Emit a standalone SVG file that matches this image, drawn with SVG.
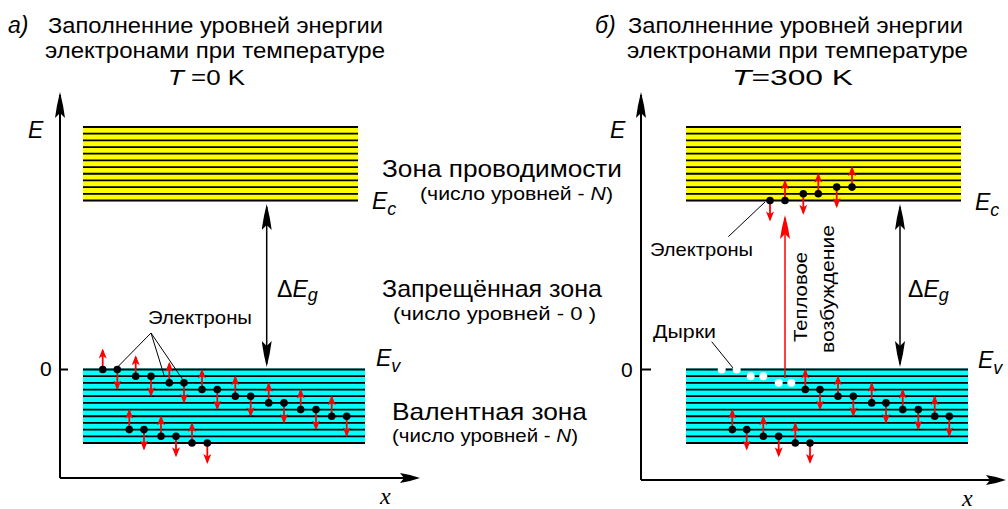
<svg xmlns="http://www.w3.org/2000/svg" width="1008" height="509" viewBox="0 0 1008 509">
<style>
.t{font-family:"Liberation Sans",Arial,sans-serif;fill:#000}
.it{font-style:italic}
.xs{font-family:"Liberation Serif","Times New Roman",serif;font-style:italic;fill:#000}
.bl{stroke:#000;stroke-width:1.8;fill:none}
.ax{stroke:#000;stroke-width:2;fill:none}
.gap{stroke:#000;stroke-width:1.5;fill:none}
.ptr{stroke:#000;stroke-width:1;fill:none}
.ru{stroke:#f00;stroke-width:1.8;fill:none;marker-end:url(#rs)}
.rth{stroke:#f00;stroke-width:1.5;fill:none}
.el{fill:#000}
.hole{fill:#fff}
</style>
<defs>
<marker id="bh" viewBox="0 0 26 10" refX="23" refY="5" markerWidth="26" markerHeight="10" markerUnits="userSpaceOnUse" orient="auto-start-reverse"><path d="M26,5 Q12,1.5 0,0 L5,5 L0,10 Q12,8.5 26,5Z" fill="#000"/></marker>
<marker id="xh" viewBox="0 0 20 10" refX="17" refY="5" markerWidth="20" markerHeight="10" markerUnits="userSpaceOnUse" orient="auto"><path d="M20,5 Q10,1.5 0,0 L4,5 L0,10 Q10,8.5 20,5Z" fill="#000"/></marker>
<marker id="rh" viewBox="0 0 24 10" refX="21" refY="5" markerWidth="24" markerHeight="10" markerUnits="userSpaceOnUse" orient="auto"><path d="M24,5 Q11,1.5 0,0 L5,5 L0,10 Q11,8.5 24,5Z" fill="#f00"/></marker>
<marker id="rs" viewBox="0 0 10 8" refX="8" refY="4" markerWidth="10" markerHeight="8" markerUnits="userSpaceOnUse" orient="auto"><path d="M10,4 L0,0 L2.5,4 L0,8Z" fill="#f00"/></marker>
</defs>

<!-- Titles -->
<g id="title-a">
<text class="t it" x="8" y="33" font-size="23">а)</text>
<text class="t" x="48" y="33" font-size="22" textLength="335" lengthAdjust="spacingAndGlyphs">Заполненние уровней энергии</text>
<text class="t" x="45" y="58" font-size="22" textLength="340" lengthAdjust="spacingAndGlyphs">электронами при температуре</text>
<text class="t" x="168" y="85" font-size="22" textLength="77" lengthAdjust="spacingAndGlyphs"><tspan class="it">T</tspan> =0 K</text>
</g>
<g id="title-b">
<text class="t it" x="595" y="33" font-size="23">б)</text>
<text class="t" x="628" y="33" font-size="22" textLength="335" lengthAdjust="spacingAndGlyphs">Заполненние уровней энергии</text>
<text class="t" x="627" y="58" font-size="22" textLength="341" lengthAdjust="spacingAndGlyphs">электронами при температуре</text>
<text class="t" x="732" y="85" font-size="22" textLength="121" lengthAdjust="spacingAndGlyphs"><tspan class="it">T</tspan>=300 K</text>
</g>

<!-- Bands -->
<g id="band-c-left">
<rect x="83" y="126" width="275" height="75.5" fill="#ff0"/>
<path class="bl" d="M83,127H358M83,133.68H358M83,140.36H358M83,147.04H358M83,153.72H358M83,160.4H358M83,167.08H358M83,173.76H358M83,180.44H358M83,187.12H358M83,193.8H358M83,200.48H358"/>
</g>
<g id="band-v-left">
<rect x="83" y="368.5" width="282" height="75.5" fill="#0ff"/>
<path class="bl" d="M83,369.5H365M83,376.18H365M83,382.86H365M83,389.54H365M83,396.22H365M83,402.9H365M83,409.58H365M83,416.26H365M83,422.94H365M83,429.62H365M83,436.3H365M83,442.98H365"/>
</g>
<g id="band-c-right">
<rect x="686" y="126" width="275" height="75.5" fill="#ff0"/>
<path class="bl" d="M686,127H961M686,133.68H961M686,140.36H961M686,147.04H961M686,153.72H961M686,160.4H961M686,167.08H961M686,173.76H961M686,180.44H961M686,187.12H961M686,193.8H961M686,200.48H961"/>
</g>
<g id="band-v-right">
<rect x="686" y="368.5" width="282" height="75.5" fill="#0ff"/>
<path class="bl" d="M686,369.5H968M686,376.18H968M686,382.86H968M686,389.54H968M686,396.22H968M686,402.9H968M686,409.58H968M686,416.26H968M686,422.94H968M686,429.62H968M686,436.3H968M686,442.98H968"/>
</g>

<!-- Connectors -->
<g id="connectors">
<path class="ax" d="M60,478V95" marker-end="url(#bh)"/>
<path class="ax" d="M60,478H417" marker-end="url(#xh)"/>
<path class="ax" d="M60,369.5H68"/>
<path class="ax" d="M641,480V95" marker-end="url(#bh)"/>
<path class="ax" d="M641,480H1003" marker-end="url(#xh)"/>
<path class="ax" d="M641,369.5H651"/>
<path class="gap" d="M266.7,207V364" marker-start="url(#bh)" marker-end="url(#bh)"/>
<path class="gap" d="M900,207V364" marker-start="url(#bh)" marker-end="url(#bh)"/>
<path class="rth" d="M785,378V218" marker-end="url(#rh)"/>
<path class="ptr" d="M151,333L117.3,367.3M151,333L164.3,376M151,333L183,380"/>
<path class="ptr" d="M728.3,236.7L765,202"/>
<path class="ptr" d="M711.7,341.7L733.3,368.3"/>
<g id="red-arrows-left">
<path class="ru" d="M102.7,369.5v-19"/><path class="ru" d="M117.3,369.5v19"/>
<path class="ru" d="M135.7,376.18v-19"/><path class="ru" d="M151,376.18v19"/>
<path class="ru" d="M169.3,382.86v-19"/><path class="ru" d="M184,382.86v19"/>
<path class="ru" d="M202,389.54v-19"/><path class="ru" d="M217.3,389.54v19"/>
<path class="ru" d="M235.3,396.22v-19"/><path class="ru" d="M250.7,396.22v19"/>
<path class="ru" d="M268.7,402.9v-19"/><path class="ru" d="M284,402.9v19"/>
<path class="ru" d="M300.7,409.58v-19"/><path class="ru" d="M316,409.58v19"/>
<path class="ru" d="M331.7,416.26v-19"/><path class="ru" d="M346.7,416.26v19"/>
<path class="ru" d="M129.3,429.62v-19"/><path class="ru" d="M144,429.62v19"/>
<path class="ru" d="M161,436.3v-19"/><path class="ru" d="M176,436.3v19"/>
<path class="ru" d="M192,442.98v-19"/><path class="ru" d="M207.3,442.98v19"/>
</g>
<g id="red-arrows-right">
<path class="ru" d="M805.3,389.54v-19"/><path class="ru" d="M820,389.54v19"/>
<path class="ru" d="M838,396.22v-19"/><path class="ru" d="M853.3,396.22v19"/>
<path class="ru" d="M871.7,402.9v-19"/><path class="ru" d="M886,402.9v19"/>
<path class="ru" d="M902.7,409.58v-19"/><path class="ru" d="M918.3,409.58v19"/>
<path class="ru" d="M934.7,416.26v-19"/><path class="ru" d="M949.3,416.26v19"/>
<path class="ru" d="M732.3,429.62v-19"/><path class="ru" d="M746.7,429.62v19"/>
<path class="ru" d="M763.3,436.3v-19"/><path class="ru" d="M778.7,436.3v19"/>
<path class="ru" d="M795.3,442.98v-19"/><path class="ru" d="M810,442.98v19"/>
<path class="ru" d="M770,200.48v19"/><path class="ru" d="M785,200.48v-19"/>
<path class="ru" d="M803.3,193.8v19"/><path class="ru" d="M818.3,193.8v-19"/>
<path class="ru" d="M836.7,187.12v19"/><path class="ru" d="M852,187.12v-19"/>
</g>
</g>

<!-- Electrons and holes -->
<g id="electrons-left">
<circle class="el" cx="102.7" cy="369.5" r="3.8"/><circle class="el" cx="117.3" cy="369.5" r="3.8"/>
<circle class="el" cx="135.7" cy="376.18" r="3.8"/><circle class="el" cx="151" cy="376.18" r="3.8"/>
<circle class="el" cx="169.3" cy="382.86" r="3.8"/><circle class="el" cx="184" cy="382.86" r="3.8"/>
<circle class="el" cx="202" cy="389.54" r="3.8"/><circle class="el" cx="217.3" cy="389.54" r="3.8"/>
<circle class="el" cx="235.3" cy="396.22" r="3.8"/><circle class="el" cx="250.7" cy="396.22" r="3.8"/>
<circle class="el" cx="268.7" cy="402.9" r="3.8"/><circle class="el" cx="284" cy="402.9" r="3.8"/>
<circle class="el" cx="300.7" cy="409.58" r="3.8"/><circle class="el" cx="316" cy="409.58" r="3.8"/>
<circle class="el" cx="331.7" cy="416.26" r="3.8"/><circle class="el" cx="346.7" cy="416.26" r="3.8"/>
<circle class="el" cx="129.3" cy="429.62" r="3.8"/><circle class="el" cx="144" cy="429.62" r="3.8"/>
<circle class="el" cx="161" cy="436.3" r="3.8"/><circle class="el" cx="176" cy="436.3" r="3.8"/>
<circle class="el" cx="192" cy="442.98" r="3.8"/><circle class="el" cx="207.3" cy="442.98" r="3.8"/>
</g>
<g id="electrons-right">
<circle class="el" cx="805.3" cy="389.54" r="3.8"/><circle class="el" cx="820" cy="389.54" r="3.8"/>
<circle class="el" cx="838" cy="396.22" r="3.8"/><circle class="el" cx="853.3" cy="396.22" r="3.8"/>
<circle class="el" cx="871.7" cy="402.9" r="3.8"/><circle class="el" cx="886" cy="402.9" r="3.8"/>
<circle class="el" cx="902.7" cy="409.58" r="3.8"/><circle class="el" cx="918.3" cy="409.58" r="3.8"/>
<circle class="el" cx="934.7" cy="416.26" r="3.8"/><circle class="el" cx="949.3" cy="416.26" r="3.8"/>
<circle class="el" cx="732.3" cy="429.62" r="3.8"/><circle class="el" cx="746.7" cy="429.62" r="3.8"/>
<circle class="el" cx="763.3" cy="436.3" r="3.8"/><circle class="el" cx="778.7" cy="436.3" r="3.8"/>
<circle class="el" cx="795.3" cy="442.98" r="3.8"/><circle class="el" cx="810" cy="442.98" r="3.8"/>
<circle class="el" cx="770" cy="200.48" r="3.8"/><circle class="el" cx="785" cy="200.48" r="3.8"/>
<circle class="el" cx="803.3" cy="193.8" r="3.8"/><circle class="el" cx="818.3" cy="193.8" r="3.8"/>
<circle class="el" cx="836.7" cy="187.12" r="3.8"/><circle class="el" cx="852" cy="187.12" r="3.8"/>
</g>
<g id="holes-right">
<circle class="hole" cx="721.7" cy="369.5" r="4"/><circle class="hole" cx="736.7" cy="369.5" r="4"/>
<circle class="hole" cx="750.7" cy="376.18" r="4"/><circle class="hole" cx="763.3" cy="376.18" r="4"/>
<circle class="hole" cx="778.7" cy="382.86" r="4"/><circle class="hole" cx="791.3" cy="382.86" r="4"/>
</g>

<!-- Labels left panel -->
<g id="labels-left">
<text class="t it" x="28" y="138" font-size="23">E</text>
<text class="t" x="40" y="376" font-size="21">0</text>
<text class="xs" x="380" y="504" font-size="24">x</text>
<text class="t" x="277" y="297" font-size="23">Δ<tspan class="it">E</tspan><tspan class="it" font-size="18" dy="4">g</tspan></text>
<text class="t it" x="372" y="209" font-size="23">E<tspan font-size="18" dy="6">c</tspan></text>
<text class="t it" x="376" y="366" font-size="23">E<tspan font-size="18" dy="6">v</tspan></text>
<text class="t" x="148" y="324" font-size="19" textLength="104" lengthAdjust="spacingAndGlyphs">Электроны</text>
<text class="t" x="382" y="177" font-size="24" textLength="240" lengthAdjust="spacingAndGlyphs">Зона проводимости</text>
<text class="t" x="420" y="200" font-size="19" textLength="193" lengthAdjust="spacingAndGlyphs">(число уровней - <tspan class="it">N</tspan>)</text>
<text class="t" x="382" y="297" font-size="24" textLength="220" lengthAdjust="spacingAndGlyphs">Запрещённая зона</text>
<text class="t" x="393" y="320" font-size="19" textLength="203" lengthAdjust="spacingAndGlyphs">(число уровней - 0 )</text>
<text class="t" x="392" y="420" font-size="24" textLength="195" lengthAdjust="spacingAndGlyphs">Валентная зона</text>
<text class="t" x="392" y="442" font-size="19" textLength="186" lengthAdjust="spacingAndGlyphs">(число уровней - <tspan class="it">N</tspan>)</text>
</g>

<!-- Labels right panel -->
<g id="labels-right">
<text class="t it" x="610" y="138" font-size="23">E</text>
<text class="t" x="621" y="377" font-size="21">0</text>
<text class="xs" x="962" y="506" font-size="24">x</text>
<text class="t" x="908" y="297" font-size="23">Δ<tspan class="it">E</tspan><tspan class="it" font-size="18" dy="4">g</tspan></text>
<text class="t it" x="975" y="210" font-size="23">E<tspan font-size="18" dy="6">c</tspan></text>
<text class="t it" x="978" y="368" font-size="23">E<tspan font-size="18" dy="6">v</tspan></text>
<text class="t" x="650" y="256" font-size="19" textLength="103" lengthAdjust="spacingAndGlyphs">Электроны</text>
<text class="t" x="653" y="338" font-size="19" textLength="63" lengthAdjust="spacingAndGlyphs">Дырки</text>
<text class="t" transform="translate(807,342) rotate(-90)" font-size="19" textLength="90" lengthAdjust="spacingAndGlyphs">Тепловое</text>
<text class="t" transform="translate(834,353) rotate(-90)" font-size="19" textLength="128" lengthAdjust="spacingAndGlyphs">возбуждение</text>
</g>
</svg>
